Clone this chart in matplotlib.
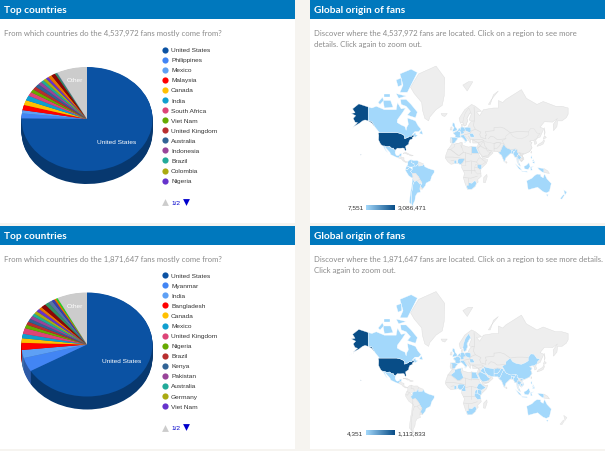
import matplotlib
matplotlib.use('Agg')
import matplotlib.pyplot as plt
from matplotlib.patches import Polygon, Rectangle
from matplotlib.colors import LinearSegmentedColormap, to_rgb
import numpy as np

W, H = 605, 452

# Pie data (share of fans in percent)
labels_a = ['United States', 'Philippines', 'Mexico', 'Malaysia', 'Canada', 'India', 'South Africa',
            'Viet Nam', 'United Kingdom', 'Australia', 'Indonesia', 'Brazil', 'Colombia', 'Nigeria']
values_a = [74.0, 1.5, 1.0, 1.6, 1.5, 1.5, 1.2, 1.0, 1.0, 1.0, 0.9, 0.8, 0.8, 0.7, 0.9, 1.0, 0.4, 0.2, 7.4]
labels_b = ['United States', 'Myanmar', 'India', 'Bangladesh', 'Canada', 'Mexico', 'United Kingdom',
            'Nigeria', 'Brazil', 'Kenya', 'Pakistan', 'Australia', 'Germany', 'Viet Nam']
values_b = [66.3, 4.3, 2.5, 2.2, 1.4, 1.4, 1.8, 1.1, 1.0, 1.0, 1.0, 0.9, 0.9, 0.9, 0.8, 1.2, 1.0, 1.0,
            0.7, 0.5, 0.4, 7.4]
other_colour = '#cccccc'
slice_colours = ['#0b52a3', '#4285f4', '#5ea0f5', '#ff0000', '#ffc000', '#0f9fcf', '#dd4477', '#66aa00',
                 '#b82e2e', '#316395', '#994499', '#22aa99', '#aaaa11', '#6633cc', '#e67300', '#8b0707',
                 '#329262', '#5574a6', '#3b3eac', '#e67300', '#22dd22']

# Map outlines, lon/lat
land = {
    'greenland': [(-73, 78.3), (-60, 82), (-32, 83.6), (-18, 81), (-19, 75), (-22, 70.5), (-32, 68), (-42, 63), (-44, 60), (-50, 62), (-54, 68), (-55, 72), (-67, 76)],
    'central': [(-92, 14.5), (-91, 17), (-88, 18), (-88.5, 16), (-83.5, 15), (-83.5, 11), (-81, 9), (-77.5, 8.5), (-78, 7.5), (-81, 7.5), (-85, 10), (-87.5, 13)],
    'cuba': [(-85, 22), (-80, 23), (-74.2, 20.2), (-77.5, 19.9), (-82, 22.3)],
    'hispaniola': [(-74, 19.8), (-68.5, 18.5), (-71.5, 17.8), (-74.4, 18.4)],
    'africa': [(-6, 35.8), (-2, 35), (10, 37.3), (11, 33.5), (15, 32.3), (20, 31), (25, 31.8), (32, 31.2), (34.2, 31.2), (32.5, 30), (35.5, 24), (37.5, 18.5), (39.5, 15), (43.3, 11.5), (51, 12), (49, 6), (41, -2), (39, -6), (40.5, -15), (35, -20), (35.5, -24), (32.8, -26), (31, -30), (25.5, -34), (18.5, -34.3), (15, -27), (12, -18), (13.5, -10), (9, -1), (9.5, 4), (5, 5), (4.5, 6.2), (-4, 5.2), (-8, 4.5), (-13, 8.5), (-17.3, 14.7), (-16, 20), (-13, 27.5), (-9.5, 31.5)],
    'madagascar': [(49.5, -12), (50, -16), (47, -25), (44, -24.5), (44.5, -17)],
    'eurasia': [(-9, 37), (-9.5, 39), (-9, 43.5), (-1.5, 43.5), (-1, 46), (-4.5, 48.5), (2, 51), (5, 53), (8.5, 54), (8.5, 57), (10.5, 57.5), (10, 54.5), (14, 54), (19, 54.5), (21, 57), (24, 59.4), (30, 60), (23, 60), (21, 61), (25, 65.5), (22, 65.8), (17.5, 62), (18.5, 60), (16, 56.3), (13, 55.5), (11, 59), (7, 58), (5, 62), (14, 68), (25, 71), (31, 70), (41, 67), (33, 66.5), (38, 64), (44, 68), (60, 69), (68, 69), (68, 73), (75, 72), (80, 73.5), (105, 77.5), (113, 74), (130, 71), (140, 72.5), (160, 70), (170, 70), (180, 69), (180, 65), (177, 62.5), (170, 60), (163, 60), (162, 55), (156.5, 51), (156, 57), (163, 62), (155, 59), (142, 59.3), (135, 54.5), (141, 53), (135, 44), (130, 42.5), (128, 40), (129.5, 36), (126.5, 34.5), (125, 39.5), (122, 40), (118, 39), (122, 37), (120, 34), (122, 30), (118, 24.5), (110, 21), (106, 19), (109, 13), (105, 8.7), (103, 10.5), (100, 13.5), (100, 8), (103.5, 1.5), (100.5, 4), (98, 9), (97.5, 16), (94.5, 16), (92, 21), (87, 21.5), (80, 15), (77.5, 8), (73, 19), (70, 21), (67, 25), (57, 25.5), (52, 27), (48, 30), (50, 26), (56, 26), (59.5, 22.5), (52, 16), (43.5, 12.7), (39, 21), (34.8, 28), (34.5, 31.5), (36, 36.5), (27, 36.5), (26.3, 40), (29, 41), (24, 40.8), (23, 36.5), (19.5, 41), (13.5, 45.5), (18, 40), (16, 38), (12, 42), (8.5, 44.2), (3.2, 43), (0, 39.5), (-2, 36.8), (-5.5, 36)],
    'ireland': [(-10, 52), (-6, 52), (-6, 55), (-8.5, 55)],
    'iceland': [(-24, 65.5), (-14, 65.5), (-18, 63.4), (-22, 64)],
    'svalbard': [(11, 79), (20, 80), (27, 80), (18, 77)],
    'novaya': [(52, 71), (57, 73.5), (68, 77), (60, 75.5), (55, 71)],
    'sakhalin': [(142, 54), (143, 49), (142, 46), (142, 50)],
    'honshu': [(130, 32), (132, 34.5), (139, 38), (141, 41), (142, 39), (140, 35.3), (136, 33.5)],
    'hokkaido': [(140, 42), (142, 45.5), (145, 43.5), (142, 42)],
    'taiwan': [(120, 23), (121.5, 25.2), (121, 22)],
    'sri_lanka': [(80, 9.5), (82, 7.3), (80.5, 6), (79.8, 8)],
    'png': [(141, -2.5), (147, -6), (150, -10.5), (141, -9)],
}
borders = [
    [(29, 69.5), (30, 62), (28, 56), (31, 52.5), (40, 49.5), (38, 47), (40, 43.5), (48, 41.8), (47, 46), (49, 46), (47, 50), (61, 51), (61, 54), (71, 54.5), (77, 53.5), (87, 49), (98, 50), (106, 50), (116, 49.7)],
    [(52, 42), (56, 45), (61, 44), (66, 41), (70, 41), (80, 42)],
    [(-13, 27.5), (-8.7, 27.5), (3, 19), (6, 19), (12, 23.5), (25, 20), (25, 31.8)],
    [(25, 22), (37, 22)], [(15, 23), (15, 8), (24, 10), (33, 8)], [(-16, 16), (-5, 16), (4, 15), (14, 13)],
    [(-8, 10), (-3, 11)], [(24, 10), (24, -10)], [(12, -5), (30, -5)], [(12, -17), (24, -18), (34, -15)],
    [(20, -18), (20, -28)], [(24, 50.5), (31, 52.5)], [(22, 48), (24, 50)], [(13, 46.5), (22, 48)],
    [(20, 45), (23, 41)], [(26, 41), (36, 36.7), (44.5, 39.5), (42, 41), (29, 41)], [(36, 36.7), (39, 33), (35, 29)],
    [(8, 33), (9.5, 30)], [(61, 36), (66, 37.3), (72, 36.5)], [(98, 17), (105, 19), (102, 22.5)],
    [(-7, 42), (-7, 37.2)], [(12, 50), (15, 51)], [(52, 19), (56, 24)], [(43, 17), (52, 16)],
]
countries = {
    'alaska': [(-141, 69.6), (-156, 71.3), (-166, 68.5), (-162, 66), (-168, 65.6), (-161, 64), (-165, 62), (-162, 59), (-158, 58.5), (-165, 54.8), (-155, 58), (-150, 60), (-146, 60.8), (-140, 59.8), (-135, 58.2), (-130.5, 55), (-131, 56.5), (-135, 59.5), (-141, 60.3)],
    'aleutians': [(-172, 52), (-165, 54), (-163, 55), (-166, 53.7)],
    'hawaii': [(-153, 20.3), (-152, 19.5), (-153, 19)],
    'usa': [(-124.7, 48.4), (-123, 49), (-95, 49), (-89, 48), (-84.5, 46.5), (-82.5, 45), (-82.5, 42), (-79, 43), (-76, 44), (-75, 45), (-71, 45), (-69, 47.3), (-67, 45), (-70, 43.5), (-70, 41.7), (-74, 40.5), (-75.5, 38), (-76, 35), (-81, 32), (-80, 27), (-80.5, 25.2), (-82, 26.5), (-83, 29), (-85, 29.7), (-90, 29.2), (-94, 29.5), (-97.2, 27), (-97.3, 26), (-99.5, 27.5), (-101, 29.7), (-103, 29), (-106.5, 31.8), (-111, 31.3), (-114.8, 32.5), (-117.1, 32.5), (-120.5, 34.5), (-122.5, 37.5), (-124.3, 40.5), (-124, 46)],
    'canada': [(-141, 69.6), (-135, 69), (-128, 70), (-115, 68), (-108, 68), (-96, 68), (-94, 72), (-88, 68.5), (-81, 69), (-86, 66), (-94, 61), (-94.5, 58.7), (-88, 56.5), (-82, 55), (-80, 51.3), (-79, 54.5), (-76.5, 57), (-78, 62.3), (-70, 61), (-65, 60), (-61, 56), (-56, 52.5), (-60, 50), (-66, 50), (-70, 47), (-65, 49), (-64.5, 46.5), (-61, 46), (-66, 43.5), (-67, 45), (-69, 47.3), (-71, 45), (-75, 45), (-76, 44), (-79, 43), (-82.5, 42), (-82.5, 45), (-84.5, 46.5), (-89, 48), (-95, 49), (-123, 49), (-130, 54.5), (-130.5, 55), (-135, 59.5), (-141, 60.3)],
    'baffin': [(-80, 73.5), (-72, 71), (-62, 66.5), (-65, 62.5), (-72, 63.5), (-78, 64.5), (-73, 67), (-80, 70), (-88, 71), (-89, 73.5)],
    'victoria': [(-117, 73), (-105, 73), (-101, 69.5), (-115, 69)],
    'ellesmere': [(-90, 76.5), (-78, 76.5), (-62, 82.3), (-72, 83), (-90, 82), (-85, 79)],
    'devon': [(-96, 76), (-80, 75), (-92, 74)],
    'banks': [(-125, 72), (-118, 74.5), (-116, 73), (-122, 71)],
    'melville': [(-116, 76), (-106, 76), (-106, 74.8), (-115, 74.8)],
    'heiberg': [(-96, 80.5), (-88, 81), (-87, 79), (-93, 78.5)],
    'newfoundland': [(-59, 48), (-55.5, 51.5), (-53, 47)],
    'mexico': [(-117.1, 32.5), (-114.8, 32.5), (-111, 31.3), (-106.5, 31.8), (-103, 29), (-101, 29.7), (-99.5, 27.5), (-97.3, 26), (-97.8, 22.5), (-96, 19), (-94, 18.2), (-91, 19), (-90.5, 21), (-87, 21.5), (-88, 18), (-91, 17), (-92, 14.5), (-96, 15.8), (-105, 20), (-106, 23), (-112, 29), (-114.7, 31.5), (-112, 26), (-109.5, 23), (-112, 24.5), (-115, 29)],
    'colombia': [(-77.5, 8.5), (-75, 11), (-72, 12), (-72, 7), (-67.5, 6), (-67, 1.5), (-70, -4), (-70, 0), (-75, 0), (-79, 1.5), (-77.3, 4)],
    'venezuela': [(-72, 12), (-68, 10.5), (-62, 10.7), (-60, 8.5), (-61, 5), (-64, 1.5), (-67, 1.5), (-67.5, 6), (-72, 7)],
    'guianas': [(-60, 8.5), (-52, 5), (-54, 2), (-60, 1.5), (-61, 5)],
    'ecuador': [(-79, 1.5), (-75, 0), (-75.3, -1.5), (-78.5, -4.8), (-80.8, -3), (-80, 0)],
    'peru': [(-80.8, -3), (-78.5, -4.8), (-75.3, -1.5), (-75, 0), (-70, -4), (-73, -7), (-70, -11), (-69, -15), (-70, -18.3), (-76, -14), (-81.2, -5.5)],
    'brazil': [(-60, 5.2), (-60, 1.5), (-54, 2), (-52, 5), (-50, 0.5), (-44, -2.5), (-35, -5.3), (-35, -9), (-39, -15), (-41, -22), (-48, -25.5), (-49, -29), (-53.5, -34), (-57.5, -30), (-54.5, -25.5), (-58, -20), (-60, -16), (-65, -10), (-70, -11), (-73, -7), (-70, -4), (-70, 0), (-67, 1.5), (-64, 1.5), (-61, 5)],
    'bolivia': [(-70, -11), (-65, -10), (-60, -16), (-58, -20), (-62.5, -22), (-67, -23), (-69.5, -18), (-69, -15)],
    'paraguay': [(-58, -20), (-54.5, -25.5), (-58, -27), (-62.5, -22)],
    'uruguay': [(-57.5, -30), (-53.5, -34), (-58, -34)],
    'argentina': [(-67, -23), (-62.5, -22), (-58, -27), (-54.5, -25.5), (-57.5, -30), (-58, -34), (-57, -38), (-62, -39), (-65, -43), (-66, -48), (-69, -52), (-68, -55), (-72, -52), (-71.5, -40), (-70, -33), (-69, -27)],
    'chile': [(-70, -18.3), (-69.5, -18), (-67, -23), (-69, -27), (-70, -33), (-71.5, -40), (-72, -52), (-68, -55), (-75, -50), (-73, -38), (-71, -30)],
    'egypt': [(25, 31.8), (32, 31.2), (34.2, 31.2), (32.5, 30), (35.5, 24), (37, 22), (25, 22)],
    'algeria': [(-2, 35), (8.6, 37), (8, 33), (9.5, 30), (12, 23.5), (6, 19), (3, 19), (-8.7, 27.5), (-2, 32)],
    'ghana': [(-3, 5), (1, 6), (0.5, 11), (-3, 11)],
    'nigeria': [(3, 6.2), (4.5, 6.2), (5.5, 4.5), (8.5, 4.7), (11, 7), (14, 12.5), (13, 13.7), (4, 13.5), (3, 11)],
    'cameroon': [(8.5, 4.7), (9.8, 2.3), (16, 2), (15, 7.5), (14.5, 12.8), (14, 12.5), (11, 7)],
    'kenya': [(34, 4.5), (41, 4), (41, -2), (39, -4.6), (34, -1)],
    'uganda': [(30, -1), (34, -1), (34, 4.5), (31, 3.7)],
    'tanzania': [(30, -1), (34, -1), (39, -4.6), (40.3, -10.5), (34.5, -11.5), (29.5, -6)],
    'ethiopia': [(33, 8), (36.5, 14.5), (40, 14.5), (43, 11.5), (48, 8), (41.5, 4), (36, 4.5)],
    'south_africa': [(16.5, -28.6), (20, -28.5), (20, -24.8), (25.5, -25.7), (29.5, -22.2), (31.5, -22.4), (32.8, -26), (31, -30), (25.5, -34), (18.5, -34.3)],
    'uk': [(-5.5, 50), (1.5, 51.2), (1.7, 52.8), (-1.5, 55), (-2, 57.6), (-5, 58.6), (-6, 56), (-3, 54), (-5, 52)],
    'france': [(-1.5, 43.5), (3.2, 43), (7.5, 43.8), (6.2, 46.2), (8, 49), (2.5, 51), (-1.5, 49.5), (-4.5, 48.5), (-1, 46)],
    'spain': [(-9, 43.5), (-1.5, 43.5), (3.2, 42.3), (0, 39.5), (-2, 36.8), (-5.5, 36), (-7, 37.2), (-7, 42)],
    'germany': [(6, 51), (7, 53.5), (9, 54.8), (14, 54), (15, 51), (12, 50), (13.5, 48.7), (10, 47.4), (7.5, 47.6), (8, 49)],
    'benelux': [(2.5, 51), (5, 53.3), (7, 53.5), (6, 50)],
    'poland': [(14, 54), (19, 54.5), (23.5, 54), (24, 50.5), (22, 49), (15, 51)],
    'italy': [(7.5, 43.8), (8.5, 44.2), (12, 42), (16, 38), (18, 40), (13.5, 45.5), (13, 46.5), (7, 46)],
    'sicily': [(12.5, 38), (15.5, 38), (15, 36.7)],
    'romania': [(22, 48), (27, 48), (29.5, 45), (28.5, 43.8), (22.8, 44)],
    'sweden': [(11, 59), (13, 55.5), (16, 56.3), (18.5, 60), (17.5, 62), (22, 65.8), (24, 66), (20.5, 69), (15, 66), (12, 62)],
    'india': [(68.5, 23.5), (71, 24.5), (74.5, 32), (77, 35.5), (79, 32), (81, 30), (88, 27.5), (96, 28.5), (94, 24), (92, 23), (92.5, 25), (89, 26), (88.5, 21.7), (87, 21.5), (80, 15), (77.5, 8), (73, 19), (70, 21)],
    'bangladesh': [(88.5, 21.7), (89, 26), (92.5, 25), (92, 21)],
    'myanmar': [(92, 21), (92, 23), (94, 24), (96, 28.5), (98.5, 27), (98, 24), (101, 21.5), (98, 17), (99, 11), (98, 9), (97.5, 16), (94.5, 16)],
    'thailand': [(98, 17), (100, 20.2), (105, 16), (102.5, 12), (100, 13.5), (100, 8), (102, 6), (99, 7), (99, 11)],
    'malaya': [(100.5, 6.5), (102, 6), (103.5, 1.5), (100.5, 4)],
    'borneo': [(109, 1), (110, -3), (116, -4), (119, 1), (117, 7), (113, 3)],
    'sumatra': [(95, 5.5), (103, -1.5), (106, -6), (101, -3)],
    'java': [(105.5, -6.5), (114, -7), (114.5, -8.5), (106, -7.6)],
    'sulawesi': [(119.5, 0), (125, 1.3), (121, -1), (122.5, -5), (120, -5.5)],
    'papua': [(131, -1), (141, -2.5), (141, -9), (138, -8), (133, -4)],
    'luzon': [(120, 16), (122, 18.5), (122, 14), (124, 13), (120.5, 14)],
    'mindanao': [(122, 7), (126, 9.7), (126, 6), (124, 6.5)],
    'visayas': [(122, 10), (125, 12.5), (125, 10), (123, 9.5)],
    'china': [(74, 39.5), (80, 42), (80, 45), (87, 49), (91, 45), (97, 42.8), (105, 41.8), (111, 43.7), (116, 46), (116, 49.7), (120, 53.3), (125, 53), (130, 48.5), (135, 48), (131, 45), (130, 42.5), (125, 40), (122, 40), (118, 39), (122, 37), (120, 34), (122, 30), (118, 24.5), (110, 21), (108, 21.5), (102, 22.5), (98, 24), (98.5, 27), (96, 28.5), (88, 27.5), (81, 30), (79, 32), (77, 35.5)],
    'vietnam': [(102, 22.5), (108, 21.5), (106, 19), (109, 13), (105, 8.7), (105, 11), (107.5, 15), (105, 19)],
    'cambodia': [(102.5, 12), (105, 14.2), (107.5, 14), (106, 11), (105, 10.5)],
    'pakistan': [(61, 25), (67, 25), (68.5, 23.5), (71, 24.5), (74.5, 32), (77, 35.5), (72, 36.5), (70, 33), (66, 29.5), (61, 29.5)],
    'afghanistan': [(61, 29.5), (66, 29.5), (70, 33), (72, 36.5), (66, 37.3), (61, 35.5)],
    'iran': [(44.5, 39.5), (48, 38), (54, 37), (61, 36), (61, 29.5), (61, 25), (57, 25.5), (52, 27), (48.5, 30), (46, 33)],
    'iraq': [(39, 33), (42.5, 37.2), (44.8, 37), (46, 33), (48.5, 30), (46, 29)],
    'saudi': [(35, 29), (37, 31.5), (39, 32), (46, 29), (48.5, 28), (51, 24.5), (55, 22.5), (52, 19), (43, 17), (39, 21)],
    'australia': [(113.5, -22), (122, -18), (126, -14), (130, -11.5), (136, -12), (136, -15), (140, -17.5), (142, -11), (146, -19), (153, -26), (150, -37), (145, -39), (140, -37.5), (136, -35), (131, -31.5), (124, -33), (116, -35), (115, -31)],
    'tasmania': [(144.7, -41), (148, -41), (147, -43.5)],
    'nz_north': [(173, -35), (178, -38), (175, -41.5), (174, -39)],
    'nz_south': [(172.5, -41), (174, -42), (170, -46.5), (167, -46)],
}
top_dark = ['usa', 'alaska', 'aleutians', 'hawaii']
always_light = ['canada', 'baffin', 'victoria', 'ellesmere', 'devon', 'banks', 'melville', 'heiberg', 'newfoundland',
                'uk', 'france', 'spain', 'germany', 'benelux', 'italy', 'sicily', 'egypt', 'ghana', 'nigeria', 'kenya',
                'south_africa', 'india', 'bangladesh', 'myanmar', 'thailand', 'malaya', 'borneo', 'sumatra', 'java',
                'sulawesi', 'papua', 'luzon', 'mindanao', 'visayas', 'australia', 'tasmania', 'brazil', 'mexico', 'poland', 'romania']
light_a = always_light + ['colombia', 'venezuela', 'ecuador', 'peru', 'argentina', 'chile', 'nz_north', 'nz_south']
light_b = always_light + ['sweden', 'algeria', 'cameroon', 'uganda', 'tanzania', 'ethiopia', 'china', 'vietnam', 'cambodia',
                          'pakistan', 'afghanistan', 'iran', 'iraq', 'saudi']

LAND = '#eeeeee'
EDGE = '#dcdcdc'
LIGHT = '#a3d8fb'
DARK = '#084d87'
HEADER = '#0078bd'
TEXT_GREY = '#8a8a8a'
SMALL = 4.65


def add_axes_px(fig, x0, y0, x1, y1):
    return fig.add_axes([x0 / W, 1 - y1 / H, (x1 - x0) / W, (y1 - y0) / H])


def merc(lat):
    return np.log(np.tan(np.pi / 4 + np.radians(lat) / 2))


def project(points):
    pts = np.array(points, dtype=float)
    return np.column_stack([pts[:, 0], merc(pts[:, 1])])


def draw_panel(bg, x0, x1, y0, y1, title, lines):
    bg.add_patch(Rectangle((x0, y0 + 19), x1 - x0, y1 - y0 - 19, fc='white', ec='none'))
    bg.add_patch(Rectangle((x0, y0), x1 - x0, 19, fc=HEADER, ec='none'))
    bg.text(x0 + 4.5, y0 + 9.5, title, color='white', fontsize=7.3, family='Lato', va='center', fontweight='bold')
    for i, line in enumerate(lines):
        bg.text(x0 + 4, y0 + 32.5 + i * 10.6, line, color=TEXT_GREY, fontsize=5.55, family='Lato', va='center')


def draw_pie(fig, cy, values, us_pos):
    # pie squashed to an ellipse, with the rim made of darker pies stacked below it
    ax = add_axes_px(fig, 87 - 65.5 * 1.1, cy - 52 * 1.1, 87 + 65.5 * 1.1, cy + 52 * 1.1 + 14)
    colours = slice_colours[:len(values) - 1] + [other_colour]
    dark = [tuple(c * 0.68 for c in to_rgb(col)) for col in colours]
    depth = 13 / 52
    for off in np.linspace(depth, 0.01, 16):
        ax.pie(values, colors=dark, startangle=90, counterclock=False, center=(0, -off), radius=1)
    ax.pie(values, colors=colours, startangle=90, counterclock=False, radius=1)
    ax.set_aspect('auto')
    ax.set_xlim(-1.1, 1.1)
    ax.set_ylim(-1.1 - 14 / 52, 1.1)
    ax.text(us_pos[0], us_pos[1], 'United States', color='white', fontsize=SMALL, family='Liberation Sans', ha='center', va='center')
    ax.text(-0.19, 0.75, 'Other', color='white', fontsize=SMALL, family='Liberation Sans', ha='center', va='center')


def draw_legend(bg, labels, top):
    for i, name in enumerate(labels):
        y = top + i * 10.07
        bg.scatter([165], [y], s=20, color=slice_colours[i], linewidths=0)
        bg.text(171, y, name, color='#333333', fontsize=SMALL, family='Liberation Sans', va='center')
    y = top + 152.7
    bg.scatter([165], [y], s=24, marker='^', color='#cccccc', linewidths=0)
    bg.text(172, y, '1/2', color='#0000cc', fontsize=SMALL, family='Liberation Sans', va='center')
    bg.scatter([186], [y - 0.5], s=24, marker='v', color='#0000cc', linewidths=0)


def draw_map(fig, equator_y, light, low, high, bar_y):
    lon0, px_deg, px_merc = 151 + 305, 0.623, 35.0
    y0, y1 = equator_y - 115, equator_y + 55
    ax = add_axes_px(fig, 310, y0, 605, y1)
    ax.set_xlim((310 - lon0) / px_deg, (605 - lon0) / px_deg)
    ax.set_ylim((equator_y - y1) / px_merc, (equator_y - y0) / px_merc)
    ax.axis('off')
    for pts in land.values():
        ax.add_patch(Polygon(project(pts), fc=LAND, ec=EDGE, lw=0.3))
    for line in borders:
        xy = project(line)
        ax.plot(xy[:, 0], xy[:, 1], color=EDGE, lw=0.4)
    for name, pts in countries.items():
        if name in top_dark:
            fc = DARK
        elif name in light:
            fc = LIGHT
        else:
            fc = LAND
        ax.add_patch(Polygon(project(pts), fc=fc, ec='#ffffff' if fc != LAND else EDGE, lw=0.25))
    # colour scale under the map
    cax = add_axes_px(fig, 366, bar_y, 394.5, bar_y + 5)
    cmap = LinearSegmentedColormap.from_list('fans', [LIGHT, DARK])
    cax.imshow(np.linspace(0, 1, 64)[None, :], cmap=cmap, aspect='auto')
    cax.axis('off')
    fig.text(363.5 / W, 1 - (bar_y + 2.5) / H, low, fontsize=SMALL, family='Liberation Sans', color='#333333', ha='right', va='center')
    fig.text(398 / W, 1 - (bar_y + 2.5) / H, high, fontsize=SMALL, family='Liberation Sans', color='#333333', ha='left', va='center')


fig = plt.figure(figsize=(W / 100, H / 100), dpi=100, facecolor='#f6f4f0')
bg = fig.add_axes([0, 0, 1, 1])
bg.set_xlim(0, W)
bg.set_ylim(H, 0)
bg.axis('off')

draw_panel(bg, 0, 294.5, 1, 224, 'Top countries', ['From which countries do the 4,537,972 fans mostly come from?'])
draw_panel(bg, 310, 605, 1, 224, 'Global origin of fans',
           ['Discover where the 4,537,972 fans are located. Click on a region to see more',
            'details. Click again to zoom out.'])
draw_panel(bg, 0, 294.5, 227, 450, 'Top countries', ['From which countries do the 1,871,647 fans mostly come from?'])
draw_panel(bg, 310, 605, 227, 450, 'Global origin of fans',
           ['Discover where the 1,871,647 fans are located. Click on a region to see more details.',
            'Click again to zoom out.'])

draw_legend(bg, labels_a, 50.7)
draw_legend(bg, labels_b, 276.2)
draw_pie(fig, 120, values_a, (0.45, -0.43))
draw_pie(fig, 345.5, values_b, (0.53, -0.31))
draw_map(fig, 168, light_a, '7,551', '3,086,471', 205.5)
draw_map(fig, 393.5, light_b, '4,351', '1,113,833', 431)

fig.savefig('out.png', dpi=100, facecolor=fig.get_facecolor())
